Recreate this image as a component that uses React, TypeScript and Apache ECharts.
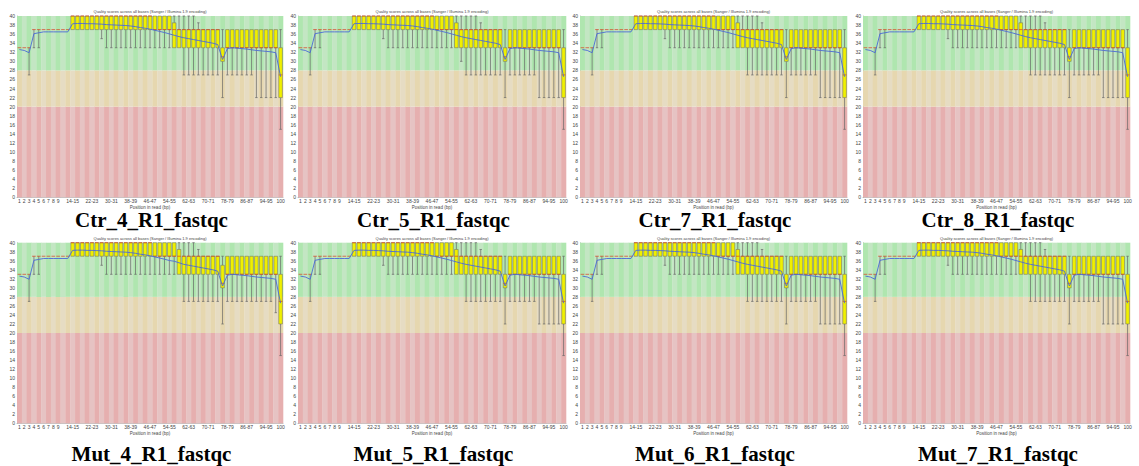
import React, { useEffect, useRef } from "react";
import * as echarts from "echarts";

// ---------- data ----------
const CATEGORIES = [
  "1", "2", "3", "4", "5", "6", "7", "8", "9",
  "10-11", "12-13", "14-15", "16-17", "18-19", "20-21", "22-23", "24-25", "26-27", "28-29",
  "30-31", "32-33", "34-35", "36-37", "38-39", "40-41", "42-43", "44-45", "46-47", "48-49",
  "50-51", "52-53", "54-55", "56-57", "58-59", "60-61", "62-63", "64-65", "66-67", "68-69",
  "70-71", "72-73", "74-75", "76-77", "78-79", "80-81", "82-83", "84-85", "86-87", "88-89",
  "90-91", "92-93", "94-95", "96-97", "98-99", "100",
];

const X_TICK_LABELS = [
  "1", "2", "3", "4", "5", "6", "7", "8", "9", "14-15", "22-23", "30-31", "38-39", "46-47",
  "54-55", "62-63", "70-71", "78-79", "86-87", "94-95", "100",
];

const Y_MIN = 0;
const Y_MAX = 40;
const Y_STEP = 2;
const BAND_LIMITS = [0, 20, 28, 40];

const BASE_MEAN = [
  32.6, 32.4, 31.9, 36.1, 36.3, 36.5, 36.5, 36.5, 36.5, 36.5, 36.5,
  38.3, 38.35, 38.35, 38.3, 38.3, 38.25, 38.2, 38.1, 38.05, 38.0, 37.95, 37.9, 37.8, 37.65,
  37.45, 37.3, 37.1, 36.85, 36.6, 36.35, 36.05, 35.75, 35.45, 35.2, 35.0, 34.8, 34.6, 34.4,
  34.2, 34.0, 33.7, 30.4, 32.8, 33.0, 32.9, 32.8, 32.7, 32.55, 32.4, 32.3, 32.2, 32.1, 31.9,
  26.6,
];
const BASE_LOW = [
  33, 33, 27, 33, 33, 37, 37, 37, 37, 37, 37,
  37, 37, 37, 37, 37, 37, 35, 33, 33, 33, 33, 33, 33, 33,
  33, 33, 33, 33, 33, 33, 33, 33, 33, 27, 27, 27, 27, 27,
  27, 27, 27, 22, 27, 27, 27, 27, 27, 27, 22, 22, 22, 22, 22,
  15,
];
const BASE_Q1 = [
  33, 33, 33, 37, 37, 37, 37, 37, 37, 37, 37,
  37, 37, 37, 37, 37, 37, 37, 37, 37, 37, 37, 37, 37, 37,
  37, 37, 37, 37, 37, 37, 37, 33, 33, 33, 33, 33, 33, 33,
  33, 33, 33, 30, 33, 33, 33, 33, 33, 33, 33, 33, 33, 33, 33,
  22,
];
const BASE_MEDIAN = [
  33, 33, 33, 37, 37, 37, 37, 37, 37, 37, 37,
  40, 40, 40, 40, 40, 40, 40, 40, 40, 40, 40, 40, 40, 40,
  40, 40, 40, 37, 37, 37, 37, 37, 37, 37, 37, 37, 37, 37,
  37, 37, 37, 31, 33, 33, 33, 33, 33, 33, 33, 33, 33, 33, 33,
  27,
];
const BASE_Q3 = [
  33, 33, 33, 37, 37, 37, 37, 37, 37, 37, 37,
  40, 40, 40, 40, 40, 40, 40, 40, 40, 40, 40, 40, 40, 40,
  40, 40, 40, 40, 40, 40, 40, 38.5, 37, 37, 37, 37, 37, 37,
  37, 37, 37, 33, 37, 37, 37, 37, 37, 37, 37, 37, 37, 37, 37,
  33,
];
const BASE_HIGH = [
  33, 33, 33, 37, 37, 37, 37, 37, 37, 37, 37,
  40, 40, 40, 40, 40, 40, 40, 40, 40, 40, 40, 40, 40, 40,
  40, 40, 40, 40, 40, 40, 40, 40, 40, 40, 40, 40, 38.5, 37,
  37, 37, 37, 37, 37, 37, 37, 37, 37, 37, 37, 37, 37, 37, 37,
  37,
];

const SAMPLES = [
  "Ctr_4_R1_fastqc", "Ctr_5_R1_fastqc", "Ctr_7_R1_fastqc", "Ctr_8_R1_fastqc",
  "Mut_4_R1_fastqc", "Mut_5_R1_fastqc", "Mut_6_R1_fastqc", "Mut_7_R1_fastqc",
];

// per-sample differences: [category index, field, value]
type Override = [number, "low" | "q1" | "median" | "q3" | "high" | "mean", number];
const CTR4_OVERRIDES: Override[] = [];
const CTR5_OVERRIDES: Override[] = [[33, "low", 30]];
const CTR7_OVERRIDES: Override[] = [];
const CTR8_OVERRIDES: Override[] = [];
const MUT4_OVERRIDES: Override[] = [
  [32, "q1", 37], [32, "q3", 40], [32, "median", 37], [32, "mean", 35.9],
  [33, "q3", 38.5], [33, "mean", 35.55],
  [42, "q3", 35],
  [49, "low", 27], [50, "low", 27], [51, "low", 27], [52, "low", 27], [53, "low", 24.5],
];
const MUT5_OVERRIDES: Override[] = [];
const MUT6_OVERRIDES: Override[] = [];
const MUT7_OVERRIDES: Override[] = [];
const SAMPLE_OVERRIDES = [
  CTR4_OVERRIDES, CTR5_OVERRIDES, CTR7_OVERRIDES, CTR8_OVERRIDES,
  MUT4_OVERRIDES, MUT5_OVERRIDES, MUT6_OVERRIDES, MUT7_OVERRIDES,
];

const PLOT_TITLE = "Quality scores across all bases (Sanger / Illumina 1.9 encoding)";
const X_NAME = "Position in read (bp)";

// ---------- layout / style ----------
const PANEL_LEFT = [17, 298, 580, 863];
const PANEL_WIDTH = [266, 268, 267, 267];
const ROW_TOP = [16, 242.7];
const ROW_HEIGHT = [181.3, 180.6];
const CAPTION_Y = [220, 454];

const GOOD = "#C3E6C3";
const GOOD_DARK = "#AFE6AF";
const BAD = "#E6DCC3";
const BAD_DARK = "#E6D7AF";
const UGLY = "#E6C3C3";
const UGLY_DARK = "#E6AFAF";

function buildSample(k: number) {
  const low = BASE_LOW.slice();
  const q1 = BASE_Q1.slice();
  const median = BASE_MEDIAN.slice();
  const q3 = BASE_Q3.slice();
  const high = BASE_HIGH.slice();
  const mean = BASE_MEAN.slice();
  const maps: Record<string, number[]> = { low, q1, median, q3, high, mean };
  SAMPLE_OVERRIDES[k].forEach(([i, f, v]) => {
    maps[f][i] = v;
  });
  return { low, q1, median, q3, high, mean };
}

function buildOption() {
  const grid: any[] = [];
  const xAxis: any[] = [];
  const yAxis: any[] = [];
  const series: any[] = [];
  const graphic: any[] = [];

  SAMPLES.forEach((name, k) => {
    const col = k % 4;
    const row = Math.floor(k / 4);
    const left = PANEL_LEFT[col];
    const width = PANEL_WIDTH[col];
    const top = ROW_TOP[row];
    const height = ROW_HEIGHT[row];
    const d = buildSample(k);

    grid.push({ left, top, width, height, containLabel: false });
    xAxis.push({
      type: "category",
      gridIndex: k,
      data: CATEGORIES,
      boundaryGap: true,
      axisTick: { show: false },
      axisLine: { show: true, lineStyle: { color: "#999", width: 0.6 } },
      axisLabel: {
        interval: (_i: number, v: string) => X_TICK_LABELS.includes(v),
        fontSize: 5,
        color: "#444",
        margin: 1.5,
        hideOverlap: false,
      },
      splitLine: { show: false },
      name: X_NAME,
      nameLocation: "middle",
      nameGap: 7,
      nameTextStyle: { fontSize: 4.5, color: "#444" },
    });
    yAxis.push({
      type: "value",
      gridIndex: k,
      min: Y_MIN,
      max: Y_MAX,
      interval: Y_STEP,
      axisLine: { show: true, lineStyle: { color: "#999", width: 0.6 } },
      axisTick: { show: false },
      axisLabel: { fontSize: 5, color: "#444", margin: 2 },
      splitLine: { show: false },
    });

    // background bands with alternating stripes
    series.push({
      type: "custom",
      xAxisIndex: k,
      yAxisIndex: k,
      silent: true,
      z: 1,
      data: CATEGORIES.map((_c, i) => [i, Y_MAX]),
      encode: { x: 0, y: 1 },
      renderItem: (_p: any, api: any) => {
        const idx = api.value(0);
        const bw = api.size([1, 0])[0];
        const cx = api.coord([idx, 0])[0];
        const x = cx - bw / 2;
        const ys = BAND_LIMITS.map((v) => api.coord([idx, v])[1]);
        const dark = idx % 2 === 0;
        const fills = dark ? [UGLY_DARK, BAD_DARK, GOOD_DARK] : [UGLY, BAD, GOOD];
        return {
          type: "group",
          children: [0, 1, 2].map((b) => ({
            type: "rect",
            shape: { x, y: ys[b + 1], width: bw + 0.3, height: ys[b] - ys[b + 1] },
            style: { fill: fills[b] },
          })),
        };
      },
    });

    // box plots
    series.push({
      type: "custom",
      xAxisIndex: k,
      yAxisIndex: k,
      silent: true,
      z: 2,
      data: CATEGORIES.map((_c, i) => [i, d.low[i], d.q1[i], d.median[i], d.q3[i], d.high[i]]),
      encode: { x: 0, y: [1, 2, 3, 4, 5] },
      renderItem: (_p: any, api: any) => {
        const idx = api.value(0);
        const lo = api.value(1);
        const b1 = api.value(2);
        const md = api.value(3);
        const b3 = api.value(4);
        const hi = api.value(5);
        const bw = api.size([1, 0])[0];
        const cx = api.coord([idx, 0])[0];
        const yv = (v: number) => api.coord([idx, v])[1];
        const boxW = bw - 1.2;
        const capW = bw * 0.5;
        const children: any[] = [];
        const wStyle = { stroke: "#666", lineWidth: 0.7 };
        if (lo < b1) {
          children.push({ type: "line", shape: { x1: cx, y1: yv(b1), x2: cx, y2: yv(lo) }, style: wStyle });
          children.push({ type: "line", shape: { x1: cx - capW / 2, y1: yv(lo), x2: cx + capW / 2, y2: yv(lo) }, style: wStyle });
        }
        if (hi > b3) {
          children.push({ type: "line", shape: { x1: cx, y1: yv(b3), x2: cx, y2: yv(hi) }, style: wStyle });
          children.push({ type: "line", shape: { x1: cx - capW / 2, y1: yv(hi), x2: cx + capW / 2, y2: yv(hi) }, style: wStyle });
        }
        if (b3 > b1) {
          children.push({
            type: "rect",
            shape: { x: cx - boxW / 2, y: yv(b3), width: boxW, height: yv(b1) - yv(b3) },
            style: { fill: "#F0F000", stroke: "#666", lineWidth: 0.5 },
          });
        }
        children.push({
          type: "line",
          shape: { x1: cx - boxW / 2, y1: yv(md), x2: cx + boxW / 2, y2: yv(md) },
          style: { stroke: "#D84020", lineWidth: 0.7 },
        });
        return { type: "group", children };
      },
    });

    // mean line
    series.push({
      type: "line",
      xAxisIndex: k,
      yAxisIndex: k,
      data: d.mean,
      symbol: "none",
      showSymbol: false,
      silent: true,
      z: 5,
      lineStyle: { color: "#4A6AD6", width: 0.9 },
    });

    const cxPanel = left + width / 2;
    graphic.push({
      type: "text",
      x: cxPanel,
      y: top - 4.5,
      silent: true,
      style: {
        text: PLOT_TITLE,
        fill: "#444",
        font: '4px "Liberation Sans", sans-serif',
        align: "center",
        textAlign: "center",
        verticalAlign: "middle",
        textVerticalAlign: "middle",
      },
    });
    graphic.push({
      type: "text",
      x: cxPanel + 1.5,
      y: CAPTION_Y[row],
      silent: true,
      style: {
        text: name,
        fill: "#000",
        font: 'bold 21px "Liberation Serif", serif',
        align: "center",
        textAlign: "center",
        verticalAlign: "middle",
        textVerticalAlign: "middle",
      },
    });
  });

  return {
    animation: false,
    backgroundColor: "#FFFFFF",
    textStyle: { fontFamily: '"Liberation Sans", "DejaVu Sans", sans-serif' },
    grid,
    xAxis,
    yAxis,
    series,
    graphic,
  };
}

export default function App() {
  const ref = useRef<HTMLDivElement>(null);
  useEffect(() => {
    if (!ref.current) return;
    const chart = echarts.init(ref.current, undefined, { renderer: "svg" });
    chart.setOption(buildOption() as any);
    return () => chart.dispose();
  }, []);
  return (
    <div
      ref={ref}
      style={{ position: "fixed", left: 0, top: 0, width: 1139, height: 466, background: "#fff" }}
    />
  );
}
